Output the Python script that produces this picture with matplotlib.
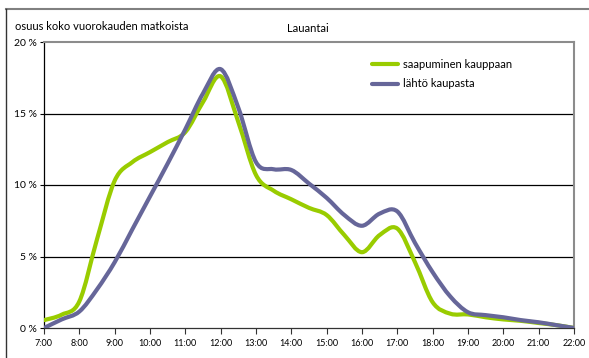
import numpy as np
import matplotlib
matplotlib.use('Agg')
import matplotlib.pyplot as plt
from matplotlib.path import Path
from matplotlib.patches import PathPatch
from matplotlib.lines import Line2D

plt.rcParams['font.family'] = ['Lato', 'DejaVu Sans']

# kellonajat puolen tunnin valein (tunteina)
hours = np.arange(7.0, 22.01, 0.5)
saapuminen = [0.55, 0.93, 1.86, 6.2, 10.3, 11.6, 12.3, 13.0, 13.7, 15.8, 17.6,
              14.4, 10.7, 9.6, 9.0, 8.4, 7.9, 6.5, 5.3, 6.5, 6.95, 4.6, 1.8,
              1.0, 0.95, 0.75, 0.6, 0.5, 0.35, 0.2, 0.0]
lahto = [0.0, 0.6, 1.15, 2.7, 4.6, 6.9, 9.2, 11.5, 13.9, 16.4, 18.1,
         15.4, 11.6, 11.1, 11.05, 10.1, 9.1, 7.9, 7.15, 8.0, 8.15, 5.95, 3.9,
         2.2, 1.1, 0.9, 0.75, 0.55, 0.4, 0.2, 0.0]
xticklabels = ['%d:00' % h for h in range(7, 23)]
yticks = [0, 5, 10, 15, 20]
green = '#99cc00'
purple = '#666699'


def smooth_path(x, y, t=1/6.):
    # Catmull-Rom -> Bezier, kuten Excelin tasoitettu viiva
    x = np.asarray(x, float)
    y = np.asarray(y, float)
    verts = [(x[0], y[0])]
    codes = [Path.MOVETO]
    n = len(x)
    for i in range(n - 1):
        p0 = (x[max(i - 1, 0)], y[max(i - 1, 0)])
        p1 = (x[i], y[i])
        p2 = (x[i + 1], y[i + 1])
        p3 = (x[min(i + 2, n - 1)], y[min(i + 2, n - 1)])
        c1 = (p1[0] + (p2[0] - p0[0]) * t, p1[1] + (p2[1] - p0[1]) * t)
        c2 = (p2[0] - (p3[0] - p1[0]) * t, p2[1] - (p3[1] - p1[1]) * t)
        verts += [c1, c2, p2]
        codes += [Path.CURVE4] * 3
    return Path(verts, codes)


fig = plt.figure(figsize=(5.89, 3.58), dpi=100)
ax = fig.add_axes([44/589., 1 - 328/358., (574 - 44)/589., (328 - 42)/358.])

ax.set_xlim(7, 22)
ax.set_ylim(0, 20)

for g in [5, 10, 15]:
    ax.axhline(g, color='black', lw=0.9, zorder=1)

for vals, col in [(saapuminen, green), (lahto, purple)]:
    ax.add_patch(PathPatch(smooth_path(hours, vals), fill=False, edgecolor=col,
                           lw=3.0, capstyle='round', joinstyle='round', zorder=3))

ax.set_xticks(range(7, 23))
ax.set_xticklabels(xticklabels, fontsize=6.5)
ax.set_yticks(yticks)
ax.set_yticklabels(['%d %%' % v for v in yticks], fontsize=7.5)
ax.tick_params(axis='x', length=4, width=0.8, color='#333333', pad=4)
ax.tick_params(axis='y', length=3, width=0.8, color='black', pad=2)

ax.spines['left'].set_color('black')
ax.spines['left'].set_linewidth(0.9)
ax.spines['bottom'].set_color('#333333')
ax.spines['bottom'].set_linewidth(0.9)
ax.spines['right'].set_color('#8c8c8c')
ax.spines['right'].set_linewidth(1.5)
ax.spines['top'].set_color('#8c8c8c')
ax.spines['top'].set_linewidth(1.5)

handles = [Line2D([], [], color=green, lw=3, solid_capstyle='round'),
           Line2D([], [], color=purple, lw=3, solid_capstyle='round')]
ax.legend(handles, ['saapuminen kauppaan', 'lähtö kaupasta'],
          loc='upper left', bbox_to_anchor=(0.6, 0.975), frameon=False,
          fontsize=8, handlelength=2.3, handletextpad=0.5, labelspacing=0.75)

fig.text(15/589., 1 - 27/358., 'osuus koko vuorokauden matkoista', fontsize=8,
         va='center', ha='left')
fig.text(308/589., 1 - 28/358., 'Lauantai', fontsize=8, va='center', ha='center')

# kehys
fig.add_artist(Line2D([6/589., 1], [1 - 8.5/358., 1 - 8.5/358.],
                      transform=fig.transFigure, color='#808080', lw=1.5))
fig.add_artist(Line2D([6/589., 6/589.], [0, 1 - 8.5/358.],
                      transform=fig.transFigure, color='#333333', lw=1))

fig.savefig('out.png', dpi=100)
